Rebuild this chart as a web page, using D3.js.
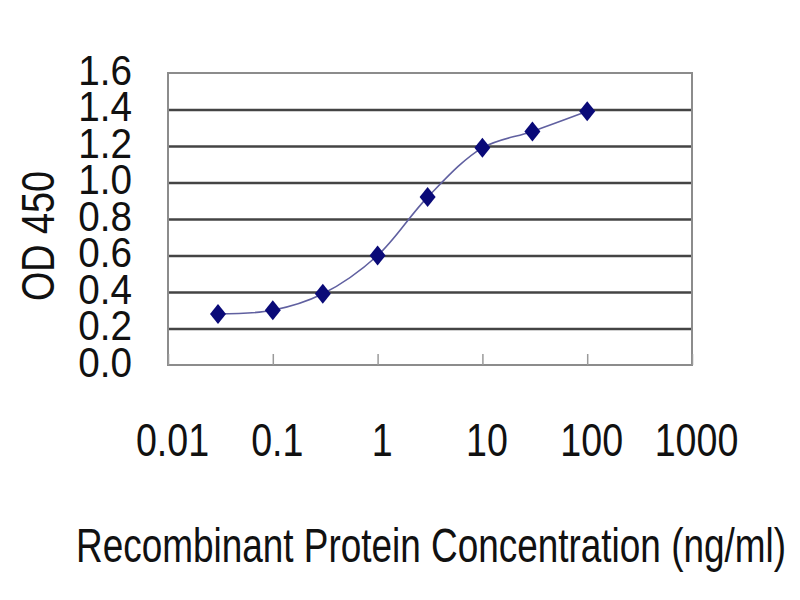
<!DOCTYPE html>
<html lang="en">
<head>
    <meta charset="UTF-8">
    <title>OD 450 curve</title>
    <script src="https://cdn.jsdelivr.net/npm/d3@7/dist/d3.min.js"></script>
    <style>
        body { margin: 0; background: #fff; }
        svg { display: block; font-family: "Liberation Sans", Arial, sans-serif; }
        .axis path { display: none; }
        .grid line { stroke: #444; stroke-width: 2.5; }
        .xaxis line { stroke: #9a9a9a; stroke-width: 1.5; }
        .axis text { fill: #111; }
    </style>
</head>
<body>
<script>
    // data
    var concentrations = [0.03, 0.1, 0.3, 1, 3, 10, 30, 100];
    var od450 = [0.28, 0.30, 0.39, 0.60, 0.92, 1.19, 1.28, 1.39];
    var xTicks = [0.01, 0.1, 1, 10, 100, 1000];
    var xTickLabels = ["0.01", "0.1", "1", "10", "100", "1000"];
    var yTicks = [0, 0.2, 0.4, 0.6, 0.8, 1.0, 1.2, 1.4, 1.6];

    var width = 800;
    var height = 600;
    // plot area (window.top is taken, so use other names)
    var plotLeft = 168, plotRight = 692, plotTop = 73, plotBottom = 365;

    var svg = d3.select("body")
        .append("svg")
        .attr("width", width)
        .attr("height", height);

    var x = d3.scaleLog()
        .domain([0.01, 1000])
        .range([plotLeft, plotRight]);
    var y = d3.scaleLinear()
        .domain([0, 1.6])
        .range([plotBottom, plotTop]);

    // horizontal grid
    svg.append("g")
        .attr("class", "axis grid")
        .attr("transform", "translate(" + plotLeft + ",0)")
        .call(d3.axisLeft(y)
            .tickValues(yTicks.slice(1, -1))
            .tickSize(-(plotRight - plotLeft))
            .tickFormat(""));

    // plot border
    svg.append("rect")
        .attr("x", plotLeft)
        .attr("y", plotTop)
        .attr("width", plotRight - plotLeft)
        .attr("height", plotBottom - plotTop)
        .attr("fill", "none")
        .attr("stroke", "#8c8c8c")
        .attr("stroke-width", 2);

    // y labels (tall digits, stacked tightly like the original)
    var yAxis = svg.append("g")
        .attr("class", "axis")
        .attr("transform", "translate(" + plotLeft + ",0)")
        .call(d3.axisLeft(y)
            .tickValues(yTicks)
            .tickSize(0)
            .tickPadding(0)
            .tickFormat(d3.format(".1f")));
    yAxis.selectAll("text")
        .attr("font-size", 43)
        .attr("x", 0)
        .attr("dy", 0)
        .attr("transform", "translate(-36,11) scale(0.9,1)");
    yAxis.selectAll("line").remove();

    // x axis: small ticks inside, labels below
    var xAxis = svg.append("g")
        .attr("class", "axis xaxis")
        .attr("transform", "translate(0," + plotBottom + ")")
        .call(d3.axisBottom(x)
            .tickValues(xTicks)
            .tickSizeInner(-11)
            .tickSizeOuter(0)
            .tickFormat(function (d, i) { return xTickLabels[i]; }));
    xAxis.selectAll("text")
        .attr("font-size", 47)
        .attr("y", 0)
        .attr("dy", 0)
        .attr("transform", "translate(4,91) scale(0.8,1)");

    // curve
    var line = d3.line()
        .x(function (d, i) { return x(concentrations[i]); })
        .y(function (d) { return y(d); })
        .curve(d3.curveCatmullRom.alpha(0.5));

    svg.append("path")
        .datum(od450)
        .attr("d", line)
        .attr("fill", "none")
        .attr("stroke", "#6060a0")
        .attr("stroke-width", 1.6);

    // diamond markers
    svg.selectAll(".marker")
        .data(od450)
        .enter()
        .append("path")
        .attr("class", "marker")
        .attr("d", "M0,-10L8,0L0,10L-8,0Z")
        .attr("transform", function (d, i) {
            return "translate(" + x(concentrations[i]) + "," + y(d) + ")";
        })
        .attr("fill", "#0a0a78");

    // axis titles
    svg.append("text")
        .attr("x", 76)
        .attr("y", 562)
        .attr("font-size", 48)
        .attr("textLength", 710)
        .attr("lengthAdjust", "spacingAndGlyphs")
        .attr("fill", "#111")
        .text("Recombinant Protein Concentration (ng/ml)");

    svg.append("text")
        .attr("transform", "translate(54,236) rotate(-90)")
        .attr("text-anchor", "middle")
        .attr("font-size", 46)
        .attr("textLength", 130)
        .attr("lengthAdjust", "spacingAndGlyphs")
        .attr("fill", "#111")
        .text("OD 450");
</script>
</body>
</html>
